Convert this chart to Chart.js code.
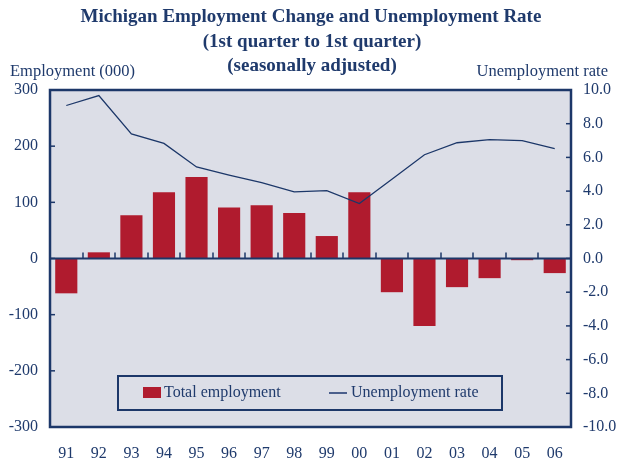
<!DOCTYPE html>
<html>
<head>
<meta charset="utf-8">
<script src="https://cdn.jsdelivr.net/npm/chart.js@4/dist/chart.umd.min.js"></script>
<style>
html,body{margin:0;padding:0;background:#fff;}
canvas{display:block;}
</style>
</head>
<body>
<canvas id="c" width="620" height="460"></canvas>
<script>
const years = ["91","92","93","94","95","96","97","98","99","00","01","02","03","04","05","06"];
const employmentChange = [-62, 11, 77, 118, 145, 91, 95, 81, 40, 118, -60, -120, -51, -35, -3, -26];
const unemploymentRate = [9.08, 9.67, 7.4, 6.83, 5.43, 4.95, 4.5, 3.95, 4.03, 3.26, 4.7, 6.16, 6.87, 7.05, 7.0, 6.52];
const titleLines = ["Michigan Employment Change and Unemployment Rate", "(1st quarter to 1st quarter)", "(seasonally adjusted)"];
const leftAxisTitle = "Employment (000)";
const rightAxisTitle = "Unemployment rate";

const NAVY = "#1c3769";
const TEXT = "#1f3a6c";
const RED = "#b01b2e";
const BG = "#dcdee7";
const SERIF = "'Liberation Serif', 'DejaVu Serif', serif";

const decor = {
  id: 'decor',
  beforeDraw(chart) {
    const {ctx, chartArea: a} = chart;
    ctx.save();
    ctx.fillStyle = BG;
    ctx.fillRect(a.left, a.top, a.right - a.left, a.bottom - a.top);
    ctx.restore();
  },
  afterDatasetsDraw(chart) {
    const {ctx, chartArea: a, scales} = chart;
    const x = scales.x, yL = scales.y, yR = scales.y1;
    ctx.save();
    ctx.strokeStyle = NAVY;
    const y0 = yL.getPixelForValue(0);
    ctx.lineWidth = 2;
    ctx.beginPath(); ctx.moveTo(a.left, y0); ctx.lineTo(a.right, y0); ctx.stroke();
    ctx.lineWidth = 1.5;
    for (let i = 1; i < years.length; i++) {
      const px = Math.round((x.getPixelForValue(i - 1) + x.getPixelForValue(i)) / 2);
      ctx.beginPath(); ctx.moveTo(px, y0); ctx.lineTo(px, y0 - 6); ctx.stroke();
    }
    yL.ticks.forEach(t => {
      const py = yL.getPixelForValue(t.value);
      ctx.beginPath(); ctx.moveTo(a.left, py); ctx.lineTo(a.left + 5, py); ctx.stroke();
    });
    yR.ticks.forEach(t => {
      const py = yR.getPixelForValue(t.value);
      ctx.beginPath(); ctx.moveTo(a.right, py); ctx.lineTo(a.right - 5, py); ctx.stroke();
    });
    ctx.lineWidth = 2.5;
    ctx.strokeRect(a.left, a.top, a.right - a.left, a.bottom - a.top);
    ctx.restore();
  },
  afterDraw(chart) {
    const {ctx} = chart;
    ctx.save();
    ctx.fillStyle = TEXT;
    ctx.textAlign = 'center';
    ctx.textBaseline = 'middle';
    ctx.font = "bold 19px " + SERIF;
    ctx.fillText(titleLines[0], 311, 17);
    ctx.fillText(titleLines[1], 312, 42);
    ctx.fillText(titleLines[2], 312, 66);
    ctx.font = "16.5px " + SERIF;
    ctx.textAlign = 'left';
    ctx.fillText(leftAxisTitle, 10, 72);
    ctx.textAlign = 'right';
    ctx.fillText(rightAxisTitle, 608, 72);
    const ds = chart.data.datasets;
    ctx.strokeStyle = NAVY;
    ctx.lineWidth = 2;
    ctx.strokeRect(118, 376, 384, 34);
    ctx.fillStyle = RED;
    ctx.fillRect(143, 387, 18, 11);
    ctx.strokeStyle = "#4b5f8c";
    ctx.lineWidth = 2;
    ctx.beginPath(); ctx.moveTo(329, 393); ctx.lineTo(347, 393); ctx.stroke();
    ctx.fillStyle = TEXT;
    ctx.textAlign = 'left';
    ctx.font = "16px " + SERIF;
    ctx.fillText(ds[1].label, 164, 393);
    ctx.fillText(ds[0].label, 351, 393);
    ctx.restore();
  }
};

new Chart(document.getElementById('c'), {
  data: {
    labels: years,
    datasets: [
      {
        type: 'line', label: 'Unemployment rate', data: unemploymentRate, yAxisID: 'y1',
        borderColor: NAVY, borderWidth: 1.3, pointRadius: 0, tension: 0, fill: false, order: 0
      },
      {
        type: 'bar', label: 'Total employment', data: employmentChange, yAxisID: 'y',
        backgroundColor: RED, borderWidth: 0, barPercentage: 0.68, categoryPercentage: 1, order: 1
      }
    ]
  },
  options: {
    responsive: false,
    animation: false,
    devicePixelRatio: 1,
    layout: {padding: {top: 90, left: 0, right: 0, bottom: 0}},
    plugins: {legend: {display: false}, tooltip: {enabled: false}, title: {display: false}},
    scales: {
      x: {
        grid: {display: false, drawTicks: false},
        border: {display: false},
        ticks: {color: TEXT, font: {family: SERIF, size: 16}, padding: 17, maxRotation: 0, autoSkip: false},
        afterFit(s) { s.height = 33; }
      },
      y: {
        position: 'left', min: -300, max: 300,
        grid: {display: false, drawTicks: false},
        border: {display: false},
        ticks: {stepSize: 100, color: TEXT, font: {family: SERIF, size: 16}, padding: 12},
        afterFit(s) { s.width = 50; }
      },
      y1: {
        position: 'right', min: -10, max: 10,
        grid: {display: false, drawTicks: false},
        border: {display: false},
        ticks: {stepSize: 2, color: TEXT, font: {family: SERIF, size: 16}, padding: 12,
          callback: v => Number(v).toFixed(1)},
        afterFit(s) { s.width = 49; }
      }
    }
  },
  plugins: [decor]
});
</script>
</body>
</html>
